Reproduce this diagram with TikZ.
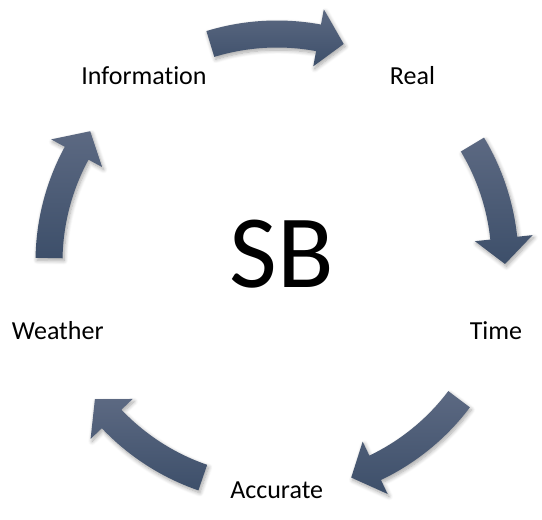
\documentclass[tikz,border=0pt]{standalone}
\usepackage{fontspec}
\setmainfont[Ligatures=NoCommon]{Carlito}
\usetikzlibrary{shadows.blur}
\definecolor{arrtop}{HTML}{5C6982}
\definecolor{arrbot}{HTML}{3D4F6A}
\tikzset{
  lbl/.style={font=\fontsize{26}{30}\selectfont, anchor=base, inner sep=0pt, text=black},
  ctr/.style={font=\fontsize{104}{110}\selectfont, anchor=base, inner sep=0pt, text=black},
  cyclearrow/.style={top color=arrtop, bottom color=arrbot, draw=none,
    blur shadow={shadow xshift=1.5pt, shadow yshift=-2.5pt, shadow blur steps=8,
      shadow blur radius=4pt, shadow opacity=35}}
}
\begin{document}
\begin{tikzpicture}[x=1pt,y=1pt]
\useasboundingbox (0,0) rectangle (542,-520);
\coordinate (C) at (277,-262);
\begin{scope}[shift={(C)}]
\foreach \sa/\tp in {107/73, 31/-0.5, -37/-71, -109/-143, 179/145}{
  \pgfmathsetmacro\hb{\tp+6.5}
  \path[cyclearrow] (\sa:241.5pt) arc[start angle=\sa, end angle=\hb, radius=241.5pt]
    -- (\hb:257pt) -- (\tp:228pt) -- (\hb:199pt) -- (\hb:214.5pt)
    arc[start angle=\hb, end angle=\sa, radius=214.5pt] -- cycle;
}
\end{scope}
\node[lbl] (info) at (144,-84.3) {Information};
\node[lbl] (real) at (412.5,-84.3) {Real};
\node[lbl] (time) at (496,-339.3) {Time};
\node[lbl] (acc) at (276.7,-498.3) {Accurate};
\node[lbl] (weather) at (57.7,-339.3) {Weather};
\node[ctr] (sb) at (282,-287.7) {SB};
\end{tikzpicture}
\end{document}
